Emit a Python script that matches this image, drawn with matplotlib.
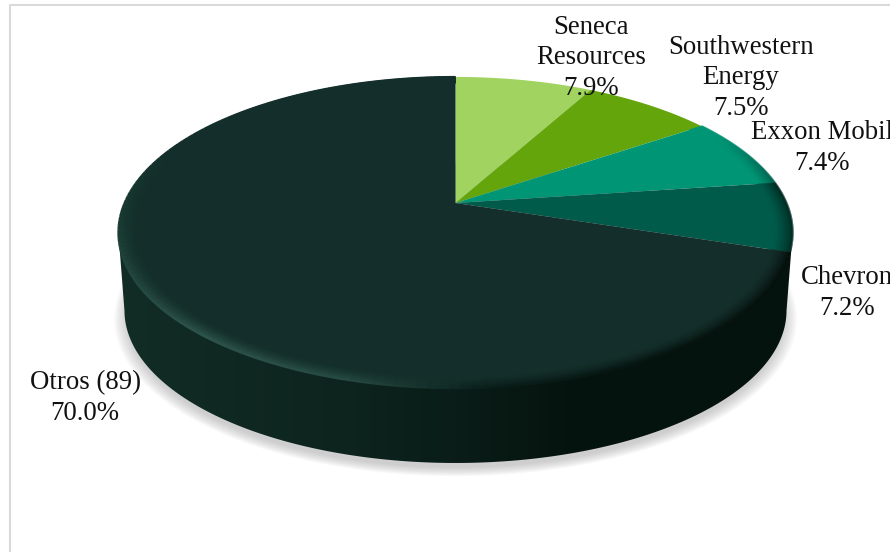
import matplotlib
matplotlib.use('Agg')
import matplotlib.pyplot as plt
from matplotlib.collections import LineCollection
from matplotlib.colors import to_rgb, LinearSegmentedColormap
from matplotlib.patches import Polygon
import numpy as np

# datos de la grafica
names = ['Seneca\nResources', 'Southwestern\nEnergy', 'Exxon Mobil', 'Chevron', 'Otros (89)']
values = [7.9, 7.5, 7.4, 7.2, 70.0]
colors = ['#A0D35F', '#63A50B', '#009675', '#005B4B', '#142F2B']
label_x = [591, 741, 822, 847, 85]
label_y = [58, 78, 148, 293, 398]

plt.rcParams['font.family'] = ['Liberation Serif', 'DejaVu Serif']

fig = plt.figure(figsize=(8.9, 5.52), dpi=100)
ax = fig.add_axes([0, 0, 1, 1])
ax.set_xlim(0, 890)
ax.set_ylim(552, 0)
ax.axis('off')

# marco gris del grafico
ax.plot([890, 9.5, 9.5], [4.5, 4.5, 552], color='#D9D9D9', lw=1.5)

# perspectiva: circulo unidad -> pantalla
K = 0.19


def project(theta, r=1.0, cx=455.5, cy=203.0, rx=331.0, ry=150.0):
    t = np.radians(theta)
    u = r * np.sin(t)
    v = r * np.cos(t)
    d = 1 + K * v
    return cx + rx * u / d, cy - ry * v / d


def bottom(theta, r=1.0):
    return project(theta, r, cy=281.5, rx=325.0, ry=147.0)


# sombra bajo el pastel
a = np.linspace(0, 360, 361)
for s in np.linspace(1.03, 0.99, 12):
    x, y = project(a, s, cy=288.0, rx=325.0, ry=147.0)
    ax.fill(x, y, color='#A0A0A0', alpha=0.05, lw=0, zorder=1)

# angulos de cada porcion (sentido horario desde arriba)
edges = np.concatenate([[0], np.cumsum(values)]) / sum(values) * 360

# costado: degradado horizontal recortado a la silueta
grad = LinearSegmentedColormap.from_list('lado', [(0, '#122C26'), (0.3, '#0E251F'), (0.5, '#0A1D18'),
                                                 (0.66, '#06140F'), (1, '#05130E')])
xt, yt = project(a)
xb, yb = bottom(a)
front = np.arange(101, 260)
sil = np.column_stack([np.r_[xt[front], xb[front][::-1]], np.r_[yt[front], yb[front][::-1]]])
im = ax.imshow(np.linspace(0, 1, 400)[None, :], cmap=grad, extent=[118, 793, 470, 200], aspect='auto',
               interpolation='bilinear', zorder=2)
clip = Polygon(sil, closed=True, transform=ax.transData, fc='none', ec='none')
ax.add_patch(clip)
im.set_clip_path(clip)
ax.set_xlim(0, 890)
ax.set_ylim(552, 0)

# cara superior
for i in range(len(values)):
    a2 = np.linspace(edges[i], edges[i + 1], 200)
    x, y = project(a2)
    ax.fill(np.r_[455.5, x], np.r_[203.0, y], color=colors[i], lw=0, zorder=3)

# bisel del borde
rim_a = [0, 60, 90, 108, 150, 175, 195, 220, 265, 290, 360]
rim_c = ['#142F2B', '#142F2B', '#04100D', '#050F0C', '#06140F', '#0A1F1A', '#264A41', '#2D544A', '#183A31', '#142F2B', '#142F2B']
rim_rgb = np.array([to_rgb(c) for c in rim_c])
for i in range(2, len(values)):
    base = np.array(to_rgb(colors[i]))
    a2 = np.linspace(edges[i], edges[i + 1], 160)
    for t in np.linspace(0, 1, 16):
        x, y = project(a2, 0.945 + 0.055 * t)
        pts = np.column_stack([x, y])
        segs = np.stack([pts[:-1], pts[1:]], axis=1)
        if i == 2:
            rim = base + (np.array(to_rgb('#00584A')) - base) * ((a2[:-1] - 60) / 25).clip(0, 1)[:, None]
        elif i == 3:
            rim = np.tile(np.array(to_rgb('#002A22')), (len(a2) - 1, 1))
        else:
            rim = np.column_stack([np.interp(a2[:-1], rim_a, rim_rgb[:, j]) for j in range(3)])
        mix = (base + (rim - base) * t ** 1.6).clip(0, 1)
        ax.add_collection(LineCollection(segs, colors=mix, linewidths=1.5, capstyle='butt', zorder=4))

# etiquetas
for i in range(len(names)):
    ax.text(label_x[i], label_y[i], f'{names[i]}\n{values[i]:.1f}%', ha='center', va='center',
            fontsize=19.3, color='#111111', linespacing=1.3, clip_on=True, zorder=5)

fig.savefig('out.png', dpi=100)
